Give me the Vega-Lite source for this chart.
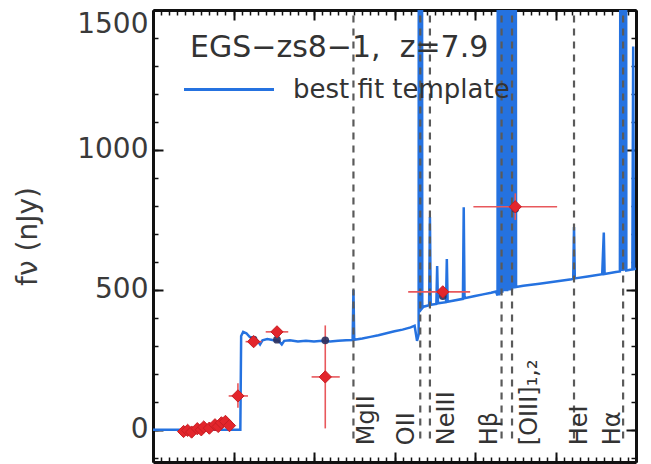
{
  "$schema": "https://vega.github.io/schema/vega-lite/v6.json",
  "width": 483,
  "height": 452,
  "autosize": "none",
  "padding": {"left": 153, "top": 10, "right": 15, "bottom": 2},
  "background": "white",
  "config": {
    "view": {"stroke": null},
    "axis": {"grid": false, "domainColor": "#111111", "tickColor": "#111111", "labelFont": "DejaVu Sans", "labelColor": "#3a3a3a", "titleFont": "DejaVu Sans", "titleColor": "#3a3a3a", "titleFontWeight": "normal"}
  },
  "datasets": {
    "spectrum": [
      {"um": 0.0, "f": 0}, {"um": 1.0, "f": 0}, {"um": 1.085, "f": 0}, {"um": 1.095, "f": 335},
      {"um": 1.12, "f": 350}, {"um": 1.16, "f": 345}, {"um": 1.2, "f": 332}, {"um": 1.25, "f": 322},
      {"um": 1.3, "f": 318}, {"um": 1.33, "f": 305}, {"um": 1.36, "f": 320}, {"um": 1.42, "f": 324},
      {"um": 1.5, "f": 320}, {"um": 1.56, "f": 318}, {"um": 1.6, "f": 305}, {"um": 1.63, "f": 318},
      {"um": 1.7, "f": 320}, {"um": 1.8, "f": 316}, {"um": 1.9, "f": 318}, {"um": 2.0, "f": 316},
      {"um": 2.1, "f": 318}, {"um": 2.2, "f": 316}, {"um": 2.3, "f": 318}, {"um": 2.4, "f": 320},
      {"um": 2.48, "f": 321}, {"um": 2.49, "f": 500}, {"um": 2.5, "f": 322}, {"um": 2.6, "f": 326},
      {"um": 2.7, "f": 332}, {"um": 2.8, "f": 338}, {"um": 2.9, "f": 345}, {"um": 3.0, "f": 352},
      {"um": 3.1, "f": 358}, {"um": 3.2, "f": 366}, {"um": 3.25, "f": 372}, {"um": 3.28, "f": 318},
      {"um": 3.3, "f": 340}, {"um": 3.305, "f": 5000}, {"um": 3.315, "f": 420}, {"um": 3.32, "f": 5000},
      {"um": 3.33, "f": 430}, {"um": 3.335, "f": 5000}, {"um": 3.345, "f": 435},
      {"um": 3.36, "f": 440}, {"um": 3.43, "f": 445}, {"um": 3.44, "f": 760}, {"um": 3.45, "f": 447},
      {"um": 3.52, "f": 450}, {"um": 3.53, "f": 585}, {"um": 3.54, "f": 452}, {"um": 3.64, "f": 456},
      {"um": 3.65, "f": 610}, {"um": 3.66, "f": 458}, {"um": 3.85, "f": 468}, {"um": 3.86, "f": 795},
      {"um": 3.87, "f": 470}, {"um": 4.0, "f": 478}, {"um": 4.1, "f": 484}, {"um": 4.2, "f": 490},
      {"um": 4.26, "f": 494}, {"um": 4.28, "f": 480}, {"um": 4.29, "f": 5000}, {"um": 4.3, "f": 480},
      {"um": 4.31, "f": 5000}, {"um": 4.32, "f": 485}, {"um": 4.33, "f": 5000}, {"um": 4.34, "f": 490},
      {"um": 4.35, "f": 5000}, {"um": 4.37, "f": 495}, {"um": 4.38, "f": 5000}, {"um": 4.4, "f": 495},
      {"um": 4.41, "f": 5000}, {"um": 4.43, "f": 498}, {"um": 4.44, "f": 5000}, {"um": 4.46, "f": 500},
      {"um": 4.47, "f": 5000}, {"um": 4.49, "f": 505}, {"um": 4.5, "f": 5000}, {"um": 4.51, "f": 510},
      {"um": 4.6, "f": 515}, {"um": 4.8, "f": 522}, {"um": 5.0, "f": 530}, {"um": 5.2, "f": 538},
      {"um": 5.22, "f": 540}, {"um": 5.23, "f": 725}, {"um": 5.24, "f": 541}, {"um": 5.4, "f": 548},
      {"um": 5.58, "f": 556}, {"um": 5.6, "f": 705}, {"um": 5.61, "f": 557}, {"um": 5.75, "f": 564},
      {"um": 5.8, "f": 566}, {"um": 5.82, "f": 5000}, {"um": 5.83, "f": 567}, {"um": 5.845, "f": 5000},
      {"um": 5.855, "f": 568}, {"um": 5.87, "f": 5000}, {"um": 5.88, "f": 569}, {"um": 5.93, "f": 572},
      {"um": 5.955, "f": 573}, {"um": 5.965, "f": 1370}, {"um": 5.975, "f": 574}, {"um": 6.0, "f": 576}
    ],
    "photometry": [
      {"um": 0.38, "umLo": 0.35, "umHi": 0.41, "f": -6, "fLo": -18, "fHi": 6},
      {"um": 0.43, "umLo": 0.40, "umHi": 0.46, "f": -2, "fLo": -14, "fHi": 10},
      {"um": 0.48, "umLo": 0.45, "umHi": 0.51, "f": -8, "fLo": -20, "fHi": 4},
      {"um": 0.55, "umLo": 0.51, "umHi": 0.59, "f": 4, "fLo": -8, "fHi": 16},
      {"um": 0.60, "umLo": 0.56, "umHi": 0.64, "f": 0, "fLo": -12, "fHi": 12},
      {"um": 0.63, "umLo": 0.60, "umHi": 0.66, "f": 10, "fLo": -2, "fHi": 22},
      {"um": 0.70, "umLo": 0.67, "umHi": 0.73, "f": 6, "fLo": -6, "fHi": 18},
      {"um": 0.77, "umLo": 0.74, "umHi": 0.80, "f": 18, "fLo": 6, "fHi": 30},
      {"um": 0.81, "umLo": 0.77, "umHi": 0.85, "f": 12, "fLo": 0, "fHi": 24},
      {"um": 0.85, "umLo": 0.82, "umHi": 0.88, "f": 25, "fLo": 12, "fHi": 38},
      {"um": 0.90, "umLo": 0.87, "umHi": 0.93, "f": 30, "fLo": 17, "fHi": 43},
      {"um": 0.95, "umLo": 0.92, "umHi": 0.98, "f": 15, "fLo": 2, "fHi": 28},
      {"um": 1.055, "umLo": 0.94, "umHi": 1.18, "f": 121, "fLo": 79, "fHi": 166},
      {"um": 1.25, "umLo": 1.15, "umHi": 1.35, "f": 315, "fLo": 300, "fHi": 330},
      {"um": 1.54, "umLo": 1.40, "umHi": 1.68, "f": 350, "fLo": 335, "fHi": 365},
      {"um": 2.14, "umLo": 1.97, "umHi": 2.32, "f": 189, "fLo": 5, "fHi": 373},
      {"um": 3.6, "umLo": 3.17, "umHi": 3.94, "f": 493, "fLo": 475, "fHi": 511},
      {"um": 4.5, "umLo": 3.98, "umHi": 5.02, "f": 797, "fLo": 750, "fHi": 845}
    ],
    "model": [
      {"um": 1.25, "f": 322}, {"um": 1.54, "f": 322}, {"um": 2.14, "f": 320},
      {"um": 3.6, "f": 478}, {"um": 4.5, "f": 790}
    ],
    "lines": [
      {"name": "MgII", "um": 2.49, "textAt": 2.66},
      {"name": "OII", "um": 3.32, "textAt": 3.15},
      {"name": "NeIII", "um": 3.44, "textAt": 3.65},
      {"name": "Hβ", "um": 4.33, "textAt": 4.19},
      {"name": "[OIII]₁,₂", "um": 4.46, "textAt": 4.68},
      {"name": "HeI", "um": 5.23, "textAt": 5.31},
      {"name": "Hα", "um": 5.84, "textAt": 5.71}
    ]
  },
  "layer": [
    {
      "data": {"name": "spectrum"},
      "transform": [{"calculate": "'best fit template'", "as": "series"}],
      "mark": {"type": "line", "clip": true, "strokeWidth": 2.5, "interpolate": "linear"},
      "encoding": {
        "x": {
          "field": "um", "type": "quantitative",
          "scale": {"domain": [0, 6], "nice": false, "zero": false},
          "axis": {"orient": "bottom", "values": [0, 1, 2, 3, 4, 5, 6], "tickSize": -10, "tickWidth": 2, "labels": false, "domainWidth": 3, "title": null}
        },
        "y": {
          "field": "f", "type": "quantitative",
          "scale": {"domain": [-115, 1500], "nice": false, "zero": false},
          "axis": {"orient": "left", "values": [0, 500, 1000, 1500], "format": "d", "tickSize": -10, "tickWidth": 2, "domainWidth": 3,
            "labelFontSize": 28, "labelPadding": 15, "labelFlush": true,
            "title": "fν (nJy)", "titleFontSize": 28, "titleX": -117, "titleY": 226, "titleBaseline": "alphabetic", "titleAngle": 270}
        },
        "color": {
          "field": "series", "type": "nominal",
          "scale": {"range": ["#2572e0"]},
          "legend": {
            "orient": "none", "legendX": 37, "legendY": 23, "padding": 0,
            "title": "EGS−zs8−1,\u00a0\u00a0z=7.9", "titleFont": "DejaVu Sans", "titleFontSize": 30, "titleFontWeight": "normal", "titleColor": "#333333", "titleLimit": 500, "titlePadding": 10,
            "symbolType": "M-1.5,0H4.5", "symbolSize": 900, "symbolStrokeWidth": 3,
            "labelFont": "DejaVu Sans", "labelFontSize": 26, "labelColor": "#333333", "labelOffset": 70, "labelLimit": 500
          }
        }
      }
    },
    {
      "data": {"name": "lines"},
      "mark": {"type": "rule", "strokeDash": [7, 6], "color": "#5a5a5a", "strokeWidth": 2.2},
      "encoding": {
        "x": {"field": "um", "type": "quantitative",
          "axis": {"orient": "top", "values": [0, 1, 2, 3, 4, 5, 6], "tickSize": -10, "tickWidth": 2, "labels": false, "domainWidth": 3, "title": null}},
        "y": {"datum": 1480, "type": "quantitative",
          "axis": {"orient": "right", "values": [0, 500, 1000, 1500], "tickSize": -10, "tickWidth": 2, "labels": false, "domainWidth": 3, "title": null}},
        "y2": {"datum": -45}
      }
    },
    {
      "data": {"name": "lines"},
      "mark": {"type": "text", "angle": 270, "align": "left", "baseline": "middle", "font": "DejaVu Sans", "fontSize": 24, "color": "#333333"},
      "encoding": {
        "x": {"field": "textAt", "type": "quantitative", "axis": null},
        "y": {"datum": -55, "type": "quantitative", "axis": null},
        "text": {"field": "name"}
      }
    },
    {
      "data": {"name": "photometry"},
      "mark": {"type": "rule", "color": "#e8585c", "strokeWidth": 1.6},
      "encoding": {
        "x": {"field": "umLo", "type": "quantitative",
          "axis": {"orient": "bottom", "values": [0,0.1,0.2,0.3,0.4,0.5,0.6,0.7,0.8,0.9,1,1.1,1.2,1.3,1.4,1.5,1.6,1.7,1.8,1.9,2,2.1,2.2,2.3,2.4,2.5,2.6,2.7,2.8,2.9,3,3.1,3.2,3.3,3.4,3.5,3.6,3.7,3.8,3.9,4,4.1,4.2,4.3,4.4,4.5,4.6,4.7,4.8,4.9,5,5.1,5.2,5.3,5.4,5.5,5.6,5.7,5.8,5.9,6], "tickSize": -5, "tickWidth": 1.5, "labels": false, "domain": false, "title": null}},
        "x2": {"field": "umHi"},
        "y": {"field": "f", "type": "quantitative",
          "axis": {"orient": "left", "values": [-100,0,100,200,300,400,500,600,700,800,900,1000,1100,1200,1300,1400,1500], "tickSize": -5, "tickWidth": 1.5, "labels": false, "domain": false, "title": null}}
      }
    },
    {
      "data": {"name": "photometry"},
      "mark": {"type": "rule", "color": "#e8585c", "strokeWidth": 1.6},
      "encoding": {
        "x": {"field": "um", "type": "quantitative",
          "axis": {"orient": "top", "values": [0,0.1,0.2,0.3,0.4,0.5,0.6,0.7,0.8,0.9,1,1.1,1.2,1.3,1.4,1.5,1.6,1.7,1.8,1.9,2,2.1,2.2,2.3,2.4,2.5,2.6,2.7,2.8,2.9,3,3.1,3.2,3.3,3.4,3.5,3.6,3.7,3.8,3.9,4,4.1,4.2,4.3,4.4,4.5,4.6,4.7,4.8,4.9,5,5.1,5.2,5.3,5.4,5.5,5.6,5.7,5.8,5.9,6], "tickSize": -5, "tickWidth": 1.5, "labels": false, "domain": false, "title": null}},
        "y": {"field": "fLo", "type": "quantitative",
          "axis": {"orient": "right", "values": [-100,0,100,200,300,400,500,600,700,800,900,1000,1100,1200,1300,1400,1500], "tickSize": -5, "tickWidth": 1.5, "labels": false, "domain": false, "title": null}},
        "y2": {"field": "fHi"}
      }
    },
    {
      "data": {"name": "model"},
      "mark": {"type": "point", "shape": "circle", "filled": true, "size": 60, "color": "#2b2f5c", "opacity": 0.9},
      "encoding": {
        "x": {"field": "um", "type": "quantitative", "axis": null},
        "y": {"field": "f", "type": "quantitative", "axis": null}
      }
    },
    {
      "data": {"name": "photometry"},
      "mark": {"type": "point", "shape": "diamond", "filled": true, "size": 150, "color": "#e3262c", "opacity": 1, "stroke": "#c81e24", "strokeWidth": 1},
      "encoding": {
        "x": {"field": "um", "type": "quantitative", "axis": null},
        "y": {"field": "f", "type": "quantitative", "axis": null}
      }
    }
  ],
  "resolve": {"axis": {"x": "independent", "y": "independent"}}
}
